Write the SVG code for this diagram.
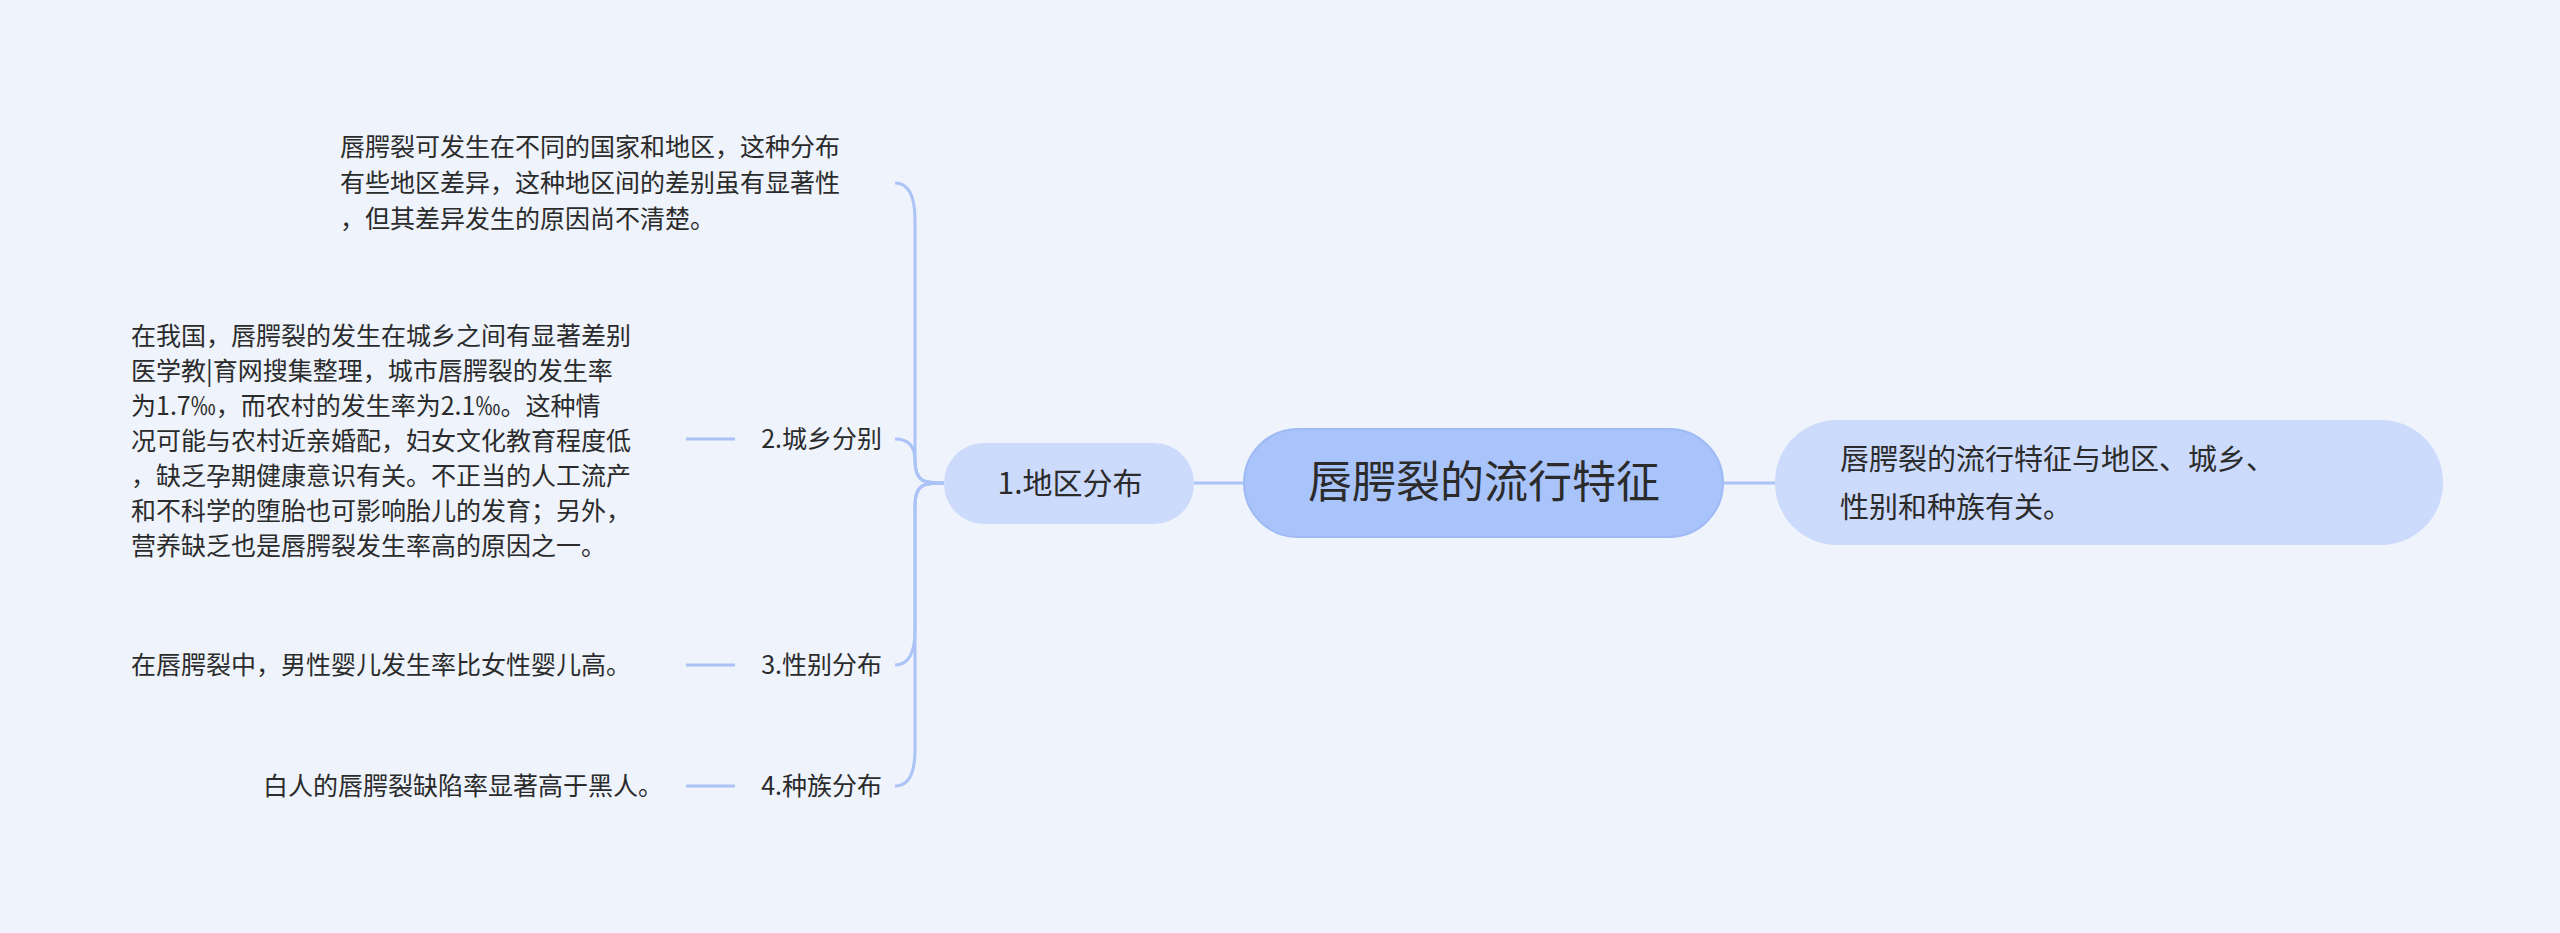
<svg xmlns="http://www.w3.org/2000/svg" width="2560" height="933" viewBox="0 0 2560 933">
<style>
text{font-family:"Noto Sans CJK SC","Noto Sans",sans-serif;fill:#2b2b2b}
.leaf{font-size:25px}
.lbl{font-size:25px}
.c{fill:none;stroke:#abc3f6;stroke-width:3}
</style>
<rect width="2560" height="933" fill="#eef3fc"/>
<g id="connectors">
<path class="c" d="M1194 483H1244M1723 483H1775"/>
<path class="c" d="M944 483C925 483 915 483 915 460V220Q915 183 895 183"/>
<path class="c" d="M944 483C925 483 915 483 915 460Q915 439 895 439"/>
<path class="c" d="M944 483C925 483 915 483 915 506V630Q915 665 895 665"/>
<path class="c" d="M944 483C925 483 915 483 915 506V750Q915 786 895 786"/>
<path class="c" d="M686 439H735M686 665H735M686 786H735"/>
</g>
<g id="center"><rect x="1244" y="429" width="479" height="108" rx="54" fill="#a9c3fb" stroke="#9fbaf5" stroke-width="2"/><text x="1484" y="498" font-size="44" text-anchor="middle">唇腭裂的流行特征</text></g>
<g id="summary"><rect x="1775" y="420" width="668" height="125" rx="62" fill="#ccdafb"/><text x="1840" y="470" font-size="29">唇腭裂的流行特征与地区、城乡、</text><text x="1840" y="518" font-size="29">性别和种族有关。</text></g>
<g id="n1"><rect x="944" y="443" width="250" height="81" rx="40" fill="#ccdafb"/><text x="1070" y="494" font-size="30" text-anchor="middle">1.地区分布</text></g>
<g id="leaf1"><text class="leaf" x="340" y="156">唇腭裂可发生在不同的国家和地区，这种分布</text><text class="leaf" x="340" y="192">有些地区差异，这种地区间的差别虽有显著性</text><text class="leaf" x="340" y="228">，但其差异发生的原因尚不清楚。</text></g>
<g id="n2"><text class="lbl" x="882" y="448" text-anchor="end">2.城乡分别</text></g>
<g id="leaf2" class="leaf">
<text class="leaf" x="131" y="345">在我国，唇腭裂的发生在城乡之间有显著差别</text>
<text class="leaf" x="131" y="380">医学教|育网搜集整理，城市唇腭裂的发生率</text>
<text class="leaf" x="131" y="415">为1.7‰，而农村的发生率为2.1‰。这种情</text>
<text class="leaf" x="131" y="450">况可能与农村近亲婚配，妇女文化教育程度低</text>
<text class="leaf" x="131" y="485">，缺乏孕期健康意识有关。不正当的人工流产</text>
<text class="leaf" x="131" y="520">和不科学的堕胎也可影响胎儿的发育；另外，</text>
<text class="leaf" x="131" y="555">营养缺乏也是唇腭裂发生率高的原因之一。</text>
</g>
<g id="n3"><text class="lbl" x="882" y="674" text-anchor="end">3.性别分布</text></g>
<g id="leaf3"><text class="leaf" x="131" y="674">在唇腭裂中，男性婴儿发生率比女性婴儿高。</text></g>
<g id="n4"><text class="lbl" x="882" y="795" text-anchor="end">4.种族分布</text></g>
<g id="leaf4"><text class="leaf" x="663" y="795" text-anchor="end">白人的唇腭裂缺陷率显著高于黑人。</text></g>
</svg>
